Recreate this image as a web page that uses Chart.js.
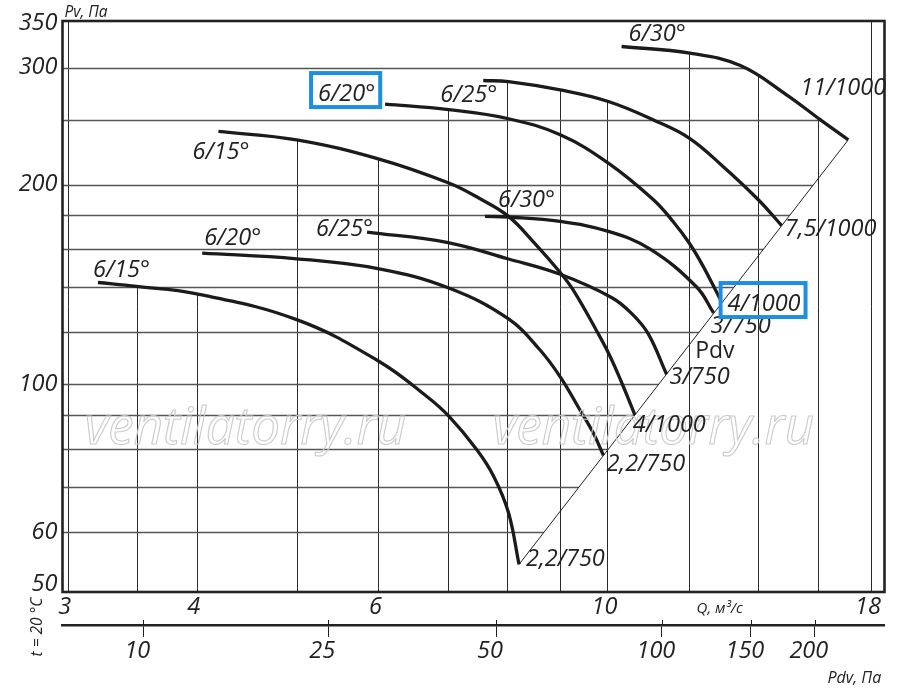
<!DOCTYPE html>
<html lang="ru">
<head>
<meta charset="utf-8">
<script src="https://cdn.jsdelivr.net/npm/chart.js@4.4.1/dist/chart.umd.min.js"></script>
<style>
html,body{margin:0;padding:0;background:#fff;overflow:hidden;}
#wrap{position:relative;width:900px;height:693px;background:#fff;}
canvas{display:block;}
</style>
</head>
<body>
<div id="wrap"><canvas id="chart" width="900" height="693"></canvas></div>
<script>
// ---------------- data (Q, m3/s ; Pv, Pa) ----------------
// lower family
const qL15 = [3.21, 3.5, 3.99, 5.0, 6.01, 6.68, 7.02, 7.47, 7.76, 8.02, 8.21];
const pL15 = [142.4, 140.5, 137.0, 125.2, 108.3, 96.0, 89.6, 79.8, 72.7, 64.1, 53.6];
const qL20 = [4.05, 5.0, 6.01, 7.02, 8.02, 8.60, 9.0, 9.40, 9.69, 9.91];
const pL20 = [157.7, 154.6, 149.3, 139.7, 125.5, 112.8, 102.7, 91.7, 84.5, 78.2];
const qL25 = [5.85, 6.99, 8.02, 9.0, 10.10, 10.56, 10.95, 11.41];
const pL25 = [169.6, 163.7, 154.5, 146.5, 135.1, 127.8, 119.3, 103.6];
const qL30 = [7.61, 8.02, 9.0, 10.02, 10.99, 12.2, 12.67];
const pL30 = [179.1, 178.7, 176.0, 170.0, 160.0, 140.2, 128.2];
// upper family
const qU15 = [4.2, 5.0, 6.01, 7.02, 7.52, 8.02, 8.49, 9.0, 9.26, 9.76, 10.06, 10.36, 10.63];
const pU15 = [240.4, 233.5, 218.4, 201.0, 190.5, 179.1, 163.5, 147.4, 138.9, 120.5, 110.2, 99.3, 90.0];
const qU20 = [6.09, 7.02, 8.02, 9.0, 10.02, 11.08, 11.58, 12.0, 12.38, 12.87];
const pU20 = [264.3, 259.2, 251.2, 237.6, 215.4, 189.7, 175.8, 163.3, 150.6, 134.0];
const qU25 = [7.58, 8.02, 9.0, 10.02, 11.16, 12.0, 12.94, 14.0, 14.75];
const pU25 = [286.8, 285.7, 277.6, 266.7, 248.9, 234.9, 212.9, 189.7, 173.4];
const qU30 = [10.32, 12.02, 13.45, 14.91, 16.07, 17.11];
const pU30 = [322.7, 315.4, 302.0, 272.9, 250.4, 233.5];
// dynamic pressure line Pdv
const diagQ = [8.21, 17.11];
const diagP = [53.6, 233.5];

const curveStartLabels = ['6/15°', '6/20°', '6/25°', '6/30°', '6/15°', '6/20°', '6/25°', '6/30°'];
const curveEndLabels = ['2,2/750', '2,2/750', '3/750', '3/750', '4/1000', '4/1000', '7,5/1000', '11/1000'];

const xTicks = [3, 4, 6, 10, 18];
const yTicks = [50, 60, 100, 200, 300, 350];
const xGrid = [3, 3.5, 4, 5, 6, 7, 8, 9, 10, 12, 14, 16, 18];
const yGrid = [60, 70, 80, 90, 100, 120, 140, 160, 180, 200, 250, 300];
const pdvLabels = [10, 25, 50, 100, 150, 200];
const pdvAtQ = [3.552, 5.365, 7.80, 11.29, 13.77, 15.88];
const xRange = [2.966, 18.55];
const yRange = [48.71, 352.5];

// ---------------- styles ----------------
const FONT = '"Open Sans", "Noto Sans", sans-serif';
const INK = '#222';
const LABEL_SIZE = 23.5;
const startOffsets = [[-5, -6], [2, -8], [-51, 4], [13, -9], [-26, 28], [-67, -3], [-43, 21], [7, -5]];
const endOffsets = [[7, 2], [3, 16], [3, 10], [-3, 20], [-2, 17], [7, 11], [3, 10], [-48, -45]];
const boxedStart = [5];
const boxedEnd = [5];

const curves = [[qL15, pL15], [qL20, pL20], [qL25, pL25], [qL30, pL30],
                [qU15, pU15], [qU20, pU20], [qU25, pU25], [qU30, pU30]];
const toPts = (qs, ps) => qs.map((q, i) => ({x: q, y: ps[i]}));

const datasets = curves.map(([q, p], i) => ({
  label: curveStartLabels[i] + ' ' + curveEndLabels[i],
  data: toPts(q, p),
  showLine: true,
  borderColor: '#1b1b1b',
  borderWidth: 3.3,
  pointRadius: 0,
  tension: 0.4,
  fill: false
}));
datasets.push({
  label: 'Pdv',
  data: toPts(diagQ, diagP),
  showLine: true,
  borderColor: INK,
  borderWidth: 1,
  pointRadius: 0,
  tension: 0,
  fill: false
});

function trace(ctx, meta, area) {
  const line = meta.dataset;
  try {
    if (line && typeof line.path === 'function' && typeof line.updateControlPoints === 'function') {
      line.updateControlPoints(area, 'x');
      line.path(ctx);
      return;
    }
  } catch (e) {}
  meta.data.forEach((p, i) => i ? ctx.lineTo(p.x, p.y) : ctx.moveTo(p.x, p.y));
}

function txt(ctx, s, x, y, size, opt) {
  opt = opt || {};
  ctx.font = (opt.upright ? '' : 'italic ') + size + 'px ' + FONT;
  ctx.fillStyle = INK;
  ctx.textAlign = opt.align || 'left';
  ctx.textBaseline = opt.baseline || 'alphabetic';
  ctx.fillText(s, x, y);
  return ctx.measureText(s).width;
}

function box(ctx, x, base, w) {
  ctx.save();
  ctx.strokeStyle = '#1e8fe0';
  ctx.lineWidth = 4;
  ctx.strokeRect(x - 7, base - 28, w + 12, 34);
  ctx.restore();
}

const deco = {
  id: 'deco',
  beforeDatasetsDraw(chart) {
    const {ctx, chartArea: a, scales} = chart;
    const x = scales.x, y = scales.y;
    const metas = curves.map((_, i) => chart.getDatasetMeta(i));
    const dMeta = chart.getDatasetMeta(curves.length);

    // vertical grid: from bottom up to the curve envelope
    ctx.save();
    ctx.beginPath();
    let minX = Infinity, maxX = -Infinity;
    metas.forEach(m => {
      const pts = m.data, f = pts[0], l = pts[pts.length - 1];
      minX = Math.min(minX, f.x); maxX = Math.max(maxX, l.x);
      trace(ctx, m, a);
      ctx.lineTo(l.x, a.bottom); ctx.lineTo(f.x, a.bottom); ctx.closePath();
    });
    ctx.rect(a.left, a.top, minX - a.left, a.bottom - a.top);
    ctx.rect(maxX, a.top, a.right - maxX, a.bottom - a.top);
    ctx.clip();
    ctx.strokeStyle = '#2a2a2a';
    ctx.lineWidth = 1;
    ctx.beginPath();
    xGrid.forEach(v => {
      const px = Math.round(x.getPixelForValue(v)) + 0.5;
      ctx.moveTo(px, a.top); ctx.lineTo(px, a.bottom);
    });
    ctx.stroke();
    ctx.restore();

    // horizontal grid: from left edge to the outer boundary (curves / Pdv line)
    ctx.save();
    ctx.beginPath();
    let topY = Infinity;
    metas.forEach(m => {
      const pts = m.data, f = pts[0], l = pts[pts.length - 1];
      topY = Math.min(topY, f.y);
      trace(ctx, m, a);
      ctx.lineTo(a.left, l.y); ctx.lineTo(a.left, f.y); ctx.closePath();
    });
    {
      const pts = dMeta.data, f = pts[0], l = pts[pts.length - 1];
      ctx.moveTo(a.left, l.y); ctx.lineTo(l.x, l.y); ctx.lineTo(f.x, f.y); ctx.lineTo(a.left, f.y); ctx.closePath();
    }
    ctx.rect(a.left, a.top, a.right - a.left, topY - a.top);
    ctx.clip();
    ctx.strokeStyle = '#555';
    ctx.lineWidth = 1.3;
    ctx.beginPath();
    yGrid.forEach(v => {
      const py = Math.round(y.getPixelForValue(v)) + 0.5;
      ctx.moveTo(a.left, py); ctx.lineTo(a.right, py);
    });
    ctx.stroke();
    ctx.restore();

    // frame
    ctx.save();
    ctx.strokeStyle = INK;
    ctx.lineWidth = 2.6;
    ctx.strokeRect(a.left, a.top, a.right - a.left, a.bottom - a.top);
    ctx.restore();
  },
  afterDatasetsDraw(chart) {
    const {ctx, chartArea: a, scales} = chart;
    const x = scales.x, y = scales.y, x2 = scales.x2;
    ctx.save();
    // watermark
    ctx.font = 'italic 51px ' + FONT;
    ctx.textAlign = 'center';
    ctx.textBaseline = 'alphabetic';
    ctx.strokeStyle = '#cbcbcb';
    ctx.lineWidth = 1.1;
    ctx.strokeText('ventilatorry.ru', a.left + 183, 444);
    ctx.strokeText('ventilatorry.ru', a.left + 591, 444);

    // curve labels
    curves.forEach((_, i) => {
      const pts = chart.getDatasetMeta(i).data;
      const f = pts[0], l = pts[pts.length - 1];
      const so = startOffsets[i], eo = endOffsets[i];
      const ws = txt(ctx, curveStartLabels[i], f.x + so[0], f.y + so[1], LABEL_SIZE);
      if (boxedStart.includes(i)) box(ctx, f.x + so[0], f.y + so[1], ws);
      const we = txt(ctx, curveEndLabels[i], l.x + eo[0], l.y + eo[1], LABEL_SIZE);
      if (boxedEnd.includes(i)) box(ctx, l.x + eo[0], l.y + eo[1], we);
    });
    // Pdv label on the dynamic-pressure line
    txt(ctx, 'Pdv', x.getPixelForValue(12.16), y.getPixelForValue(109.7), 23, {upright: true});

    // axis titles
    txt(ctx, 'Pv, Па', a.left + 2, 17, 15.5);
    txt(ctx, 'Q, м³/с', x.getPixelForValue(12.2), 613, 15);
    txt(ctx, 'Pdv, Па', a.right - 57, 683, 16);
    ctx.save();
    ctx.translate(38, 627);
    ctx.rotate(-Math.PI / 2);
    txt(ctx, 't = 20 °C', 0, 0, 15.5, {align: 'center', baseline: 'middle'});
    ctx.restore();

    // upper part of the Pdv axis tick marks
    ctx.strokeStyle = INK;
    ctx.lineWidth = 1;
    ctx.beginPath();
    pdvAtQ.forEach(q => {
      const px = Math.round(x2.getPixelForValue(q)) + 0.5;
      ctx.moveTo(px, x2.top - 5); ctx.lineTo(px, x2.top);
    });
    ctx.stroke();
    ctx.restore();
  }
};

const tickFont = {family: FONT, size: 23.5, style: 'italic'};

new Chart(document.getElementById('chart'), {
  type: 'scatter',
  data: {datasets},
  options: {
    responsive: false,
    animation: false,
    events: [],
    layout: {padding: {top: 21, right: 15.5, left: 0, bottom: 0}},
    plugins: {legend: {display: false}, tooltip: {enabled: false}},
    scales: {
      x: {
        type: 'logarithmic', position: 'bottom', weight: 0,
        min: xRange[0], max: xRange[1],
        grid: {display: false, drawTicks: false},
        border: {display: false},
        afterBuildTicks: s => { s.ticks = xTicks.map(v => ({value: v})); },
        afterFit: s => { s.height = 33; },
        ticks: {font: tickFont, color: INK, padding: 1, labelOffset: -3, maxRotation: 0, autoSkip: false,
                callback: v => String(v)}
      },
      x2: {
        type: 'logarithmic', position: 'bottom', weight: 1,
        min: xRange[0], max: xRange[1],
        grid: {display: true, drawOnChartArea: false, drawTicks: true, tickLength: 12, color: INK, lineWidth: 1},
        border: {display: true, width: 2.4, color: INK},
        afterBuildTicks: s => { s.ticks = pdvAtQ.map(v => ({value: v})); },
        afterFit: s => { s.height = 68; },
        ticks: {font: tickFont, color: INK, padding: 0, labelOffset: -6, maxRotation: 0, autoSkip: false,
                callback: (v, i) => String(pdvLabels[i])}
      },
      y: {
        type: 'logarithmic', position: 'left',
        min: yRange[0], max: yRange[1],
        grid: {display: false, drawTicks: false},
        border: {display: false},
        afterBuildTicks: s => { s.ticks = yTicks.map(v => ({value: v})); },
        afterFit: s => { s.width = 62.5; },
        ticks: {font: tickFont, color: INK, padding: 5, autoSkip: false, callback: v => String(v)}
      }
    }
  },
  plugins: [deco]
});
</script>
</body>
</html>
